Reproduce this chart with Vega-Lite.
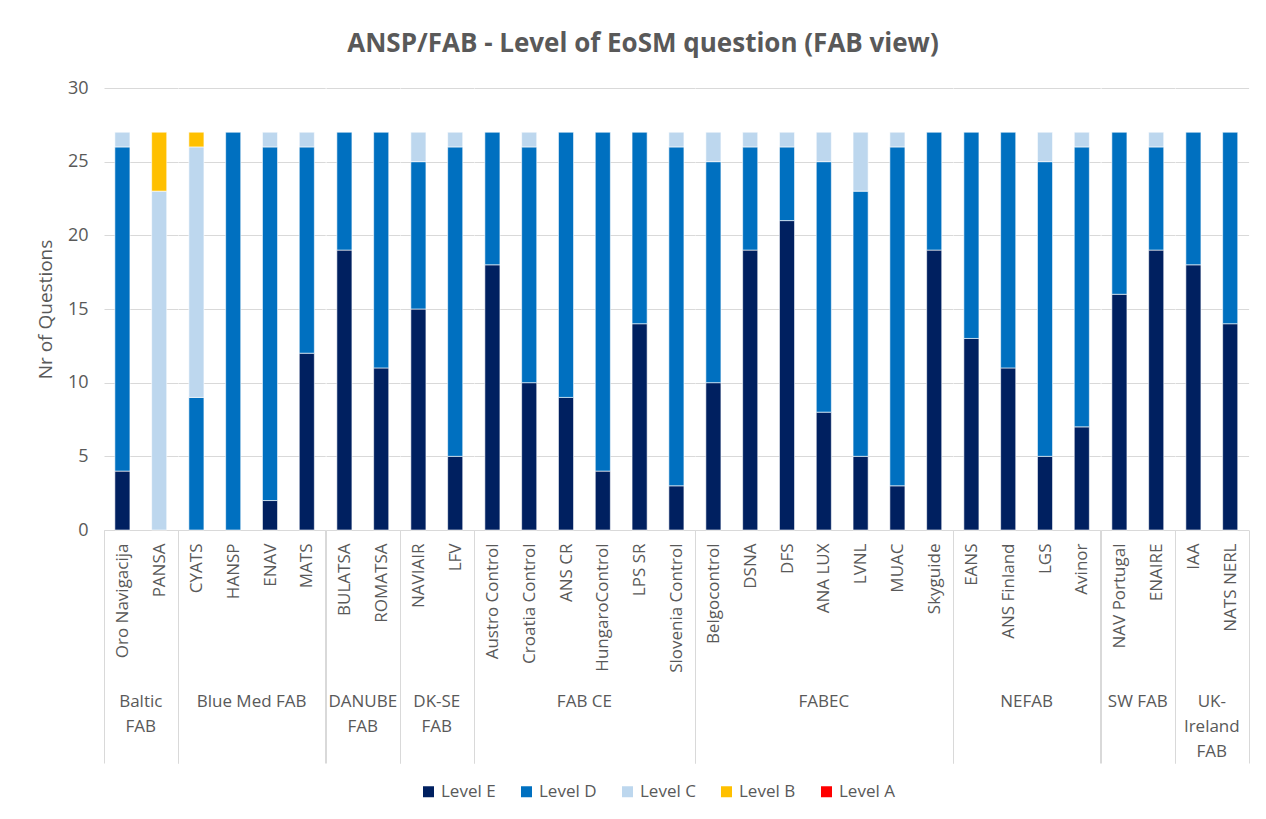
{
  "$schema": "https://vega.github.io/schema/vega-lite/v6.json",
  "background": "white",
  "padding": {"left": 36, "top": 31, "right": 20, "bottom": 5},
  "bounds": "flush",
  "title": {"text": "ANSP/FAB - Level of EoSM question (FAB view)", "anchor": "middle", "fontSize": 26, "font": "Open Sans", "fontWeight": "bold", "color": "#595959", "offset": 22},
  "data": {"values": [
    {"ansp": "Oro Navigacija", "fab": "Baltic FAB", "level": "Level E", "n": 4},
    {"ansp": "Oro Navigacija", "fab": "Baltic FAB", "level": "Level D", "n": 22},
    {"ansp": "Oro Navigacija", "fab": "Baltic FAB", "level": "Level C", "n": 1},
    {"ansp": "PANSA", "fab": "Baltic FAB", "level": "Level C", "n": 23},
    {"ansp": "PANSA", "fab": "Baltic FAB", "level": "Level B", "n": 4},
    {"ansp": "CYATS", "fab": "Blue Med FAB", "level": "Level D", "n": 9},
    {"ansp": "CYATS", "fab": "Blue Med FAB", "level": "Level C", "n": 17},
    {"ansp": "CYATS", "fab": "Blue Med FAB", "level": "Level B", "n": 1},
    {"ansp": "HANSP", "fab": "Blue Med FAB", "level": "Level D", "n": 27},
    {"ansp": "ENAV", "fab": "Blue Med FAB", "level": "Level E", "n": 2},
    {"ansp": "ENAV", "fab": "Blue Med FAB", "level": "Level D", "n": 24},
    {"ansp": "ENAV", "fab": "Blue Med FAB", "level": "Level C", "n": 1},
    {"ansp": "MATS", "fab": "Blue Med FAB", "level": "Level E", "n": 12},
    {"ansp": "MATS", "fab": "Blue Med FAB", "level": "Level D", "n": 14},
    {"ansp": "MATS", "fab": "Blue Med FAB", "level": "Level C", "n": 1},
    {"ansp": "BULATSA", "fab": "DANUBE FAB", "level": "Level E", "n": 19},
    {"ansp": "BULATSA", "fab": "DANUBE FAB", "level": "Level D", "n": 8},
    {"ansp": "ROMATSA", "fab": "DANUBE FAB", "level": "Level E", "n": 11},
    {"ansp": "ROMATSA", "fab": "DANUBE FAB", "level": "Level D", "n": 16},
    {"ansp": "NAVIAIR", "fab": "DK-SE FAB", "level": "Level E", "n": 15},
    {"ansp": "NAVIAIR", "fab": "DK-SE FAB", "level": "Level D", "n": 10},
    {"ansp": "NAVIAIR", "fab": "DK-SE FAB", "level": "Level C", "n": 2},
    {"ansp": "LFV", "fab": "DK-SE FAB", "level": "Level E", "n": 5},
    {"ansp": "LFV", "fab": "DK-SE FAB", "level": "Level D", "n": 21},
    {"ansp": "LFV", "fab": "DK-SE FAB", "level": "Level C", "n": 1},
    {"ansp": "Austro Control", "fab": "FAB CE", "level": "Level E", "n": 18},
    {"ansp": "Austro Control", "fab": "FAB CE", "level": "Level D", "n": 9},
    {"ansp": "Croatia Control", "fab": "FAB CE", "level": "Level E", "n": 10},
    {"ansp": "Croatia Control", "fab": "FAB CE", "level": "Level D", "n": 16},
    {"ansp": "Croatia Control", "fab": "FAB CE", "level": "Level C", "n": 1},
    {"ansp": "ANS CR", "fab": "FAB CE", "level": "Level E", "n": 9},
    {"ansp": "ANS CR", "fab": "FAB CE", "level": "Level D", "n": 18},
    {"ansp": "HungaroControl", "fab": "FAB CE", "level": "Level E", "n": 4},
    {"ansp": "HungaroControl", "fab": "FAB CE", "level": "Level D", "n": 23},
    {"ansp": "LPS SR", "fab": "FAB CE", "level": "Level E", "n": 14},
    {"ansp": "LPS SR", "fab": "FAB CE", "level": "Level D", "n": 13},
    {"ansp": "Slovenia Control", "fab": "FAB CE", "level": "Level E", "n": 3},
    {"ansp": "Slovenia Control", "fab": "FAB CE", "level": "Level D", "n": 23},
    {"ansp": "Slovenia Control", "fab": "FAB CE", "level": "Level C", "n": 1},
    {"ansp": "Belgocontrol", "fab": "FABEC", "level": "Level E", "n": 10},
    {"ansp": "Belgocontrol", "fab": "FABEC", "level": "Level D", "n": 15},
    {"ansp": "Belgocontrol", "fab": "FABEC", "level": "Level C", "n": 2},
    {"ansp": "DSNA", "fab": "FABEC", "level": "Level E", "n": 19},
    {"ansp": "DSNA", "fab": "FABEC", "level": "Level D", "n": 7},
    {"ansp": "DSNA", "fab": "FABEC", "level": "Level C", "n": 1},
    {"ansp": "DFS", "fab": "FABEC", "level": "Level E", "n": 21},
    {"ansp": "DFS", "fab": "FABEC", "level": "Level D", "n": 5},
    {"ansp": "DFS", "fab": "FABEC", "level": "Level C", "n": 1},
    {"ansp": "ANA LUX", "fab": "FABEC", "level": "Level E", "n": 8},
    {"ansp": "ANA LUX", "fab": "FABEC", "level": "Level D", "n": 17},
    {"ansp": "ANA LUX", "fab": "FABEC", "level": "Level C", "n": 2},
    {"ansp": "LVNL", "fab": "FABEC", "level": "Level E", "n": 5},
    {"ansp": "LVNL", "fab": "FABEC", "level": "Level D", "n": 18},
    {"ansp": "LVNL", "fab": "FABEC", "level": "Level C", "n": 4},
    {"ansp": "MUAC", "fab": "FABEC", "level": "Level E", "n": 3},
    {"ansp": "MUAC", "fab": "FABEC", "level": "Level D", "n": 23},
    {"ansp": "MUAC", "fab": "FABEC", "level": "Level C", "n": 1},
    {"ansp": "Skyguide", "fab": "FABEC", "level": "Level E", "n": 19},
    {"ansp": "Skyguide", "fab": "FABEC", "level": "Level D", "n": 8},
    {"ansp": "EANS", "fab": "NEFAB", "level": "Level E", "n": 13},
    {"ansp": "EANS", "fab": "NEFAB", "level": "Level D", "n": 14},
    {"ansp": "ANS Finland", "fab": "NEFAB", "level": "Level E", "n": 11},
    {"ansp": "ANS Finland", "fab": "NEFAB", "level": "Level D", "n": 16},
    {"ansp": "LGS", "fab": "NEFAB", "level": "Level E", "n": 5},
    {"ansp": "LGS", "fab": "NEFAB", "level": "Level D", "n": 20},
    {"ansp": "LGS", "fab": "NEFAB", "level": "Level C", "n": 2},
    {"ansp": "Avinor", "fab": "NEFAB", "level": "Level E", "n": 7},
    {"ansp": "Avinor", "fab": "NEFAB", "level": "Level D", "n": 19},
    {"ansp": "Avinor", "fab": "NEFAB", "level": "Level C", "n": 1},
    {"ansp": "NAV Portugal", "fab": "SW FAB", "level": "Level E", "n": 16},
    {"ansp": "NAV Portugal", "fab": "SW FAB", "level": "Level D", "n": 11},
    {"ansp": "ENAIRE", "fab": "SW FAB", "level": "Level E", "n": 19},
    {"ansp": "ENAIRE", "fab": "SW FAB", "level": "Level D", "n": 7},
    {"ansp": "ENAIRE", "fab": "SW FAB", "level": "Level C", "n": 1},
    {"ansp": "IAA", "fab": "UK-Ireland FAB", "level": "Level E", "n": 18},
    {"ansp": "IAA", "fab": "UK-Ireland FAB", "level": "Level D", "n": 9},
    {"ansp": "NATS NERL", "fab": "UK-Ireland FAB", "level": "Level E", "n": 14},
    {"ansp": "NATS NERL", "fab": "UK-Ireland FAB", "level": "Level D", "n": 13}
  ]},
  "facet": {
    "column": {
      "field": "fab", "type": "nominal",
      "sort": ["Baltic FAB", "Blue Med FAB", "DANUBE FAB", "DK-SE FAB", "FAB CE", "FABEC", "NEFAB", "SW FAB", "UK-Ireland FAB"],
      "title": null,
      "header": {
        "labelOrient": "bottom",
        "labelPadding": 164,
        "labelFont": "Open Sans",
        "labelFontSize": 17,
        "labelColor": "#595959",
        "labelBaseline": "top",
        "labelLineHeight": 25,
        "labelExpr": "datum.value == 'Baltic FAB' ? ['Baltic', 'FAB'] : datum.value == 'DANUBE FAB' ? ['DANUBE', 'FAB'] : datum.value == 'DK-SE FAB' ? ['DK-SE', 'FAB'] : datum.value == 'UK-Ireland FAB' ? ['UK-', 'Ireland', 'FAB'] : datum.value"
      }
    }
  },
  "spacing": 0,
  "resolve": {"scale": {"x": "independent"}},
  "spec": {
    "width": {"step": 36.8},
    "height": 442,
    "mark": {"type": "bar", "width": {"band": 0.41}, "stroke": "white", "strokeWidth": 0.6},
    "encoding": {
      "x": {
        "field": "ansp", "type": "nominal",
        "sort": ["Oro Navigacija", "PANSA", "CYATS", "HANSP", "ENAV", "MATS", "BULATSA", "ROMATSA", "NAVIAIR", "LFV", "Austro Control", "Croatia Control", "ANS CR", "HungaroControl", "LPS SR", "Slovenia Control", "Belgocontrol", "DSNA", "DFS", "ANA LUX", "LVNL", "MUAC", "Skyguide", "EANS", "ANS Finland", "LGS", "Avinor", "NAV Portugal", "ENAIRE", "IAA", "NATS NERL"],
        "scale": {"paddingInner": 0, "paddingOuter": 0},
        "title": null,
        "axis": {
          "labelAngle": -90,
          "labelFont": "Open Sans",
          "labelFontSize": 17,
          "labelColor": "#595959",
          "domainColor": "#d9d9d9",
          "ticks": true,
          "tickBand": "extent",
          "tickSize": 233,
          "tickColor": "#d9d9d9",
          "tickOpacity": {"condition": {"test": "datum.index == -1 || datum.index == 1", "value": 1}, "value": 0},
          "labelPadding": -220
        }
      },
      "y": {
        "field": "n", "type": "quantitative", "aggregate": "sum",
        "scale": {"domain": [0, 30]},
        "title": "Nr of Questions",
        "axis": {
          "values": [0, 5, 10, 15, 20, 25, 30],
          "labelFont": "Open Sans",
          "labelFontSize": 18,
          "labelColor": "#595959",
          "titleFont": "Open Sans",
          "titleFontSize": 19,
          "titleFontWeight": "normal",
          "titleColor": "#595959",
          "titlePadding": 12,
          "labelPadding": 16,
          "ticks": false,
          "domain": false,
          "gridColor": "#d9d9d9"
        }
      },
      "color": {
        "field": "level", "type": "nominal",
        "scale": {"domain": ["Level E", "Level D", "Level C", "Level B", "Level A"], "range": ["#002060", "#0070C0", "#BDD7EE", "#FFC000", "#FF0000"]},
        "legend": {"title": null, "orient": "none", "legendX": 316, "legendY": 695, "direction": "horizontal", "symbolType": "square", "symbolSize": 121, "symbolStrokeWidth": 0, "labelFont": "Open Sans", "labelFontSize": 17, "labelColor": "#595959", "columnPadding": 22, "labelOffset": 4}
      },
      "order": {"field": "level", "sort": "descending"}
    }
  },
  "config": {
    "view": {"stroke": null},
    "axisX": {"grid": false},
    "axis": {"labelOverlap": false}
  }
}
